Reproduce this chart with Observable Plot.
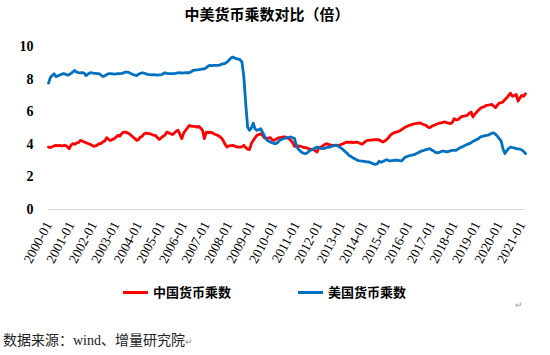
<!DOCTYPE html>
<html><head><meta charset="utf-8">
<script src="https://cdn.jsdelivr.net/npm/d3@7"></script>
<script src="https://cdn.jsdelivr.net/npm/@observablehq/plot@0.6"></script>
<style>
body{margin:0;background:#fff;width:550px;height:355px;position:relative;overflow:hidden;font-family:"Noto Sans CJK SC",sans-serif;color:#000}
#title{position:absolute;top:4px;left:0;width:534px;text-align:center;font-weight:bold;font-size:15px;line-height:20px}
#chart{position:absolute;top:28px;left:0}
#legend{position:absolute;top:282px;left:0;width:550px;height:20px;font-size:13px;font-weight:bold;line-height:20px}
.item{position:absolute;top:0;display:flex;align-items:center}
.sw{display:inline-block;width:25px;height:3px;margin-right:5px}
#caption{position:absolute;top:329px;left:3px;font-size:14px;line-height:20px;color:#222}
.pm{font-size:9px;color:#888}
#mark{position:absolute;left:515px;top:298px;font-size:9px;color:#999}
</style></head>
<body>
<div id="title">中美货币乘数对比（倍）</div>
<div id="chart"></div>
<div id="legend">
  <div class="item" style="left:123px"><span class="sw" style="background:#FF0000"></span>中国货币乘数</div>
  <div class="item" style="left:298px"><span class="sw" style="background:#0070C0"></span>美国货币乘数</div>
</div>
<div id="mark">↵</div>
<div id="caption">数据来源：<span style="font-family:'Liberation Serif',serif">wind</span>、增量研究院<span class="pm">↵</span></div>
<script>
const startMonth = "2000-01";
const seriesNames = ["中国货币乘数", "美国货币乘数"];
const seriesColors = ["#FF0000", "#0070C0"];
const xTickLabels = ["2000-01","2001-01","2002-01","2003-01","2004-01","2005-01","2006-01","2007-01","2008-01","2009-01","2010-01","2011-01","2012-01","2013-01","2014-01","2015-01","2016-01","2017-01","2018-01","2019-01","2020-01","2021-01"];
const yTicks = [0, 2, 4, 6, 8, 10];

const chinaMultiplier = [
  3.83,3.80,3.85,3.90,3.94,3.92,3.94,3.90,3.92,3.94,3.85,3.73,
  3.95,4.04,4.00,4.08,4.10,4.24,4.20,4.14,4.10,4.05,4.00,3.95,
  3.88,3.90,3.95,4.04,4.05,4.15,4.20,4.41,4.30,4.24,4.30,4.35,
  4.45,4.55,4.50,4.65,4.75,4.75,4.70,4.65,4.55,4.45,4.35,4.24,
  4.30,4.45,4.50,4.65,4.69,4.65,4.65,4.60,4.55,4.55,4.40,4.29,
  4.40,4.50,4.55,4.75,4.70,4.65,4.60,4.69,4.80,4.86,4.60,4.35,
  4.70,4.86,5.00,5.16,5.12,5.10,5.10,5.05,5.10,5.00,4.86,4.35,
  4.75,4.70,4.75,4.72,4.65,4.60,4.55,4.49,4.40,4.24,4.00,3.83,
  3.90,3.92,3.94,3.90,3.85,3.83,3.83,3.85,3.94,3.80,3.70,3.67,
  4.05,4.24,4.40,4.55,4.60,4.65,4.55,4.40,4.35,4.38,4.41,4.30,
  4.24,4.30,4.38,4.41,4.42,4.45,4.45,4.40,4.35,4.24,4.10,3.88,
  3.88,3.90,3.88,3.85,3.80,3.80,3.75,3.72,3.67,3.70,3.60,3.53,
  3.80,3.83,3.90,3.98,4.04,4.00,3.96,3.94,3.94,3.95,3.94,3.94,
  4.00,4.05,4.10,4.14,4.12,4.14,4.10,4.12,4.14,4.10,4.05,4.00,
  4.10,4.20,4.24,4.25,4.26,4.28,4.29,4.28,4.29,4.20,4.14,4.20,
  4.29,4.40,4.55,4.65,4.70,4.75,4.78,4.82,4.90,4.98,5.06,5.10,
  5.16,5.20,5.22,5.27,5.28,5.30,5.31,5.25,5.20,5.16,5.05,5.02,
  5.10,5.16,5.20,5.25,5.30,5.32,5.35,5.37,5.33,5.30,5.27,5.35,
  5.57,5.50,5.51,5.60,5.71,5.72,5.75,5.78,5.90,5.98,5.67,5.85,
  5.98,6.10,6.20,6.28,6.30,6.39,6.40,6.42,6.45,6.35,6.25,6.40,
  6.53,6.55,6.60,6.74,6.85,7.00,7.14,6.94,7.00,7.06,6.65,6.85,
  7.00,6.95,7.10
];
const usMultiplier = [
  7.75,8.10,8.22,8.33,8.15,8.20,8.25,8.30,8.33,8.30,8.25,8.28,
  8.35,8.45,8.53,8.43,8.40,8.38,8.40,8.37,8.22,8.30,8.39,8.38,
  8.36,8.35,8.34,8.33,8.25,8.16,8.20,8.28,8.33,8.33,8.32,8.30,
  8.32,8.33,8.33,8.35,8.38,8.43,8.43,8.40,8.33,8.28,8.24,8.22,
  8.30,8.36,8.39,8.36,8.32,8.28,8.27,8.26,8.27,8.26,8.25,8.26,
  8.26,8.33,8.39,8.35,8.33,8.34,8.33,8.33,8.36,8.38,8.39,8.37,
  8.38,8.39,8.40,8.39,8.45,8.53,8.55,8.57,8.58,8.60,8.62,8.63,
  8.70,8.80,8.84,8.83,8.84,8.84,8.84,8.86,8.90,8.94,8.96,9.04,
  9.15,9.28,9.35,9.30,9.25,9.22,9.19,9.04,8.12,6.50,5.06,4.86,
  5.00,5.30,4.95,4.86,4.90,4.96,4.75,4.50,4.30,4.20,4.14,4.10,
  4.05,4.04,4.10,4.24,4.28,4.35,4.38,4.40,4.43,4.45,4.40,4.35,
  3.90,3.70,3.60,3.50,3.45,3.43,3.50,3.60,3.65,3.70,3.78,3.83,
  3.80,3.75,3.73,3.75,3.80,3.82,3.83,3.88,3.92,3.94,3.90,3.83,
  3.75,3.65,3.55,3.45,3.32,3.25,3.18,3.12,3.05,3.00,2.98,2.97,
  2.95,2.93,2.92,2.90,2.85,2.80,2.77,2.80,2.96,2.90,2.95,3.00,
  3.06,3.00,2.98,3.00,3.02,3.02,3.02,3.00,2.98,3.10,3.22,3.25,
  3.30,3.32,3.35,3.38,3.43,3.50,3.55,3.60,3.63,3.68,3.70,3.73,
  3.65,3.59,3.50,3.47,3.50,3.55,3.59,3.56,3.53,3.57,3.60,3.63,
  3.63,3.63,3.70,3.78,3.83,3.88,3.94,4.00,4.04,4.10,4.18,4.24,
  4.30,4.36,4.45,4.48,4.52,4.55,4.56,4.62,4.68,4.70,4.62,4.50,
  4.35,4.20,3.73,3.43,3.60,3.75,3.83,3.80,3.78,3.73,3.72,3.70,
  3.65,3.55,3.43
];

const parse = d3.utcParse("%Y-%m");
const t0 = parse(startMonth);
const rows = [];
[chinaMultiplier, usMultiplier].forEach((arr, s) => {
  arr.forEach((v, i) => rows.push({date: d3.utcMonth.offset(t0, i), value: v, series: seriesNames[s]}));
});
const lastDate = d3.utcMonth.offset(t0, chinaMultiplier.length - 1);

const chart = Plot.plot({
  width: 550,
  height: 240,
  marginLeft: 48,
  marginRight: 25,
  marginTop: 18,
  marginBottom: 59,
  style: {fontFamily: "'Liberation Serif', serif", background: "transparent"},
  x: {type: "utc", domain: [t0, lastDate]},
  y: {domain: [0, 10]},
  color: {domain: seriesNames, range: seriesColors},
  marks: [
    Plot.ruleY([0], {stroke: "#d9d9d9", strokeWidth: 1}),
    Plot.axisY({ticks: yTicks, tickSize: 0, tickPadding: 15, label: null, fontSize: 14, fontWeight: "bold"}),
    Plot.axisX({ticks: xTickLabels.map(parse), tickFormat: d3.utcFormat("%Y-%m"), tickSize: 0, tickPadding: 13, tickRotate: -62, label: null, fontSize: 13.5}),
    Plot.line(rows, {x: "date", y: "value", z: "series", stroke: "series", strokeWidth: 2.8, curve: "linear"})
  ]
});
chart.querySelectorAll("text").forEach(t => t.setAttribute("fill", "#000"));
document.getElementById("chart").appendChild(chart);
</script>
</body></html>
